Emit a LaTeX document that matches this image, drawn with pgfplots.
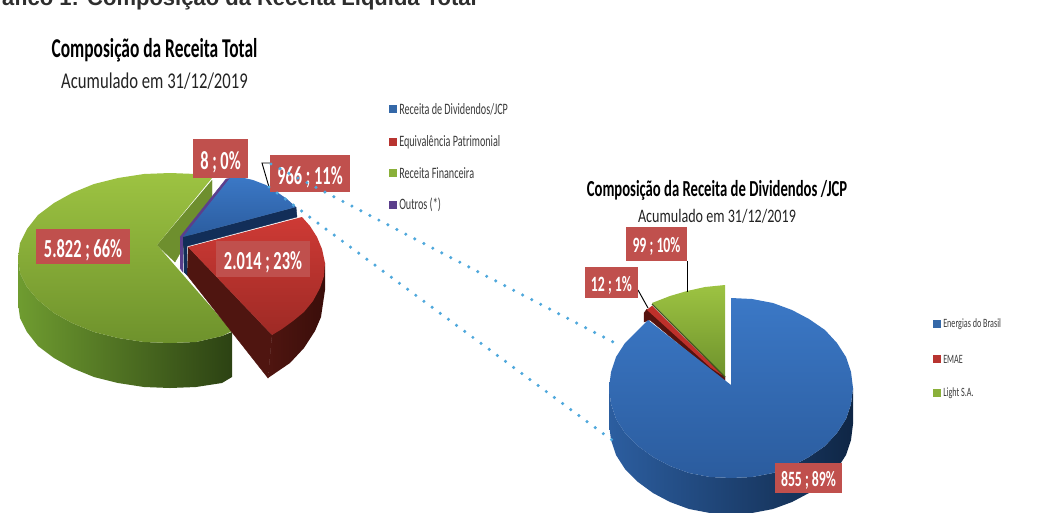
\documentclass[border=0pt]{standalone}
\usepackage{fontspec}
\setmainfont{Carlito}
\newfontfamily\arialb{Liberation Sans}[BoldFont={Liberation Sans Bold}]
\newfontfamily\nar[FakeStretch=0.64]{Carlito}
\newfontfamily\narb[FakeStretch=0.74]{Carlito}
\newfontfamily\narl[FakeStretch=0.63]{Carlito}
\usepackage{pgfplots}
\pgfplotsset{compat=1.18}

\definecolor{lbl}{HTML}{C0504D}
\definecolor{dots}{HTML}{4FA8DC}
\definecolor{leg}{HTML}{3A3A3A}
\definecolor{bluemk}{HTML}{3468A8}
\definecolor{redmk}{HTML}{B83430}
\definecolor{greenmk}{HTML}{8AB03A}
\definecolor{purplemk}{HTML}{5B3F8C}
\definecolor{gside1}{HTML}{6F9C30}
\definecolor{gside2}{HTML}{2C4213}
\definecolor{gwall}{HTML}{6E8F2E}
\definecolor{gtop1}{HTML}{9DC342}
\definecolor{gtop2}{HTML}{6E922C}
\definecolor{rside1}{HTML}{4F1510}
\definecolor{rside2}{HTML}{3A0E0A}
\definecolor{rwall}{HTML}{4F1510}
\definecolor{rtop1}{HTML}{CE3A35}
\definecolor{rtop2}{HTML}{9E2A25}
\definecolor{bwall}{HTML}{122E58}
\definecolor{btop1}{HTML}{3B78C6}
\definecolor{btop2}{HTML}{2B5C9E}
\definecolor{bside1}{HTML}{2C5EA0}
\definecolor{bside2}{HTML}{0F2645}
\definecolor{rslice}{HTML}{BE302A}
\definecolor{rslwall}{HTML}{56120E}
\definecolor{gedge}{HTML}{40541C}
\definecolor{ttl}{HTML}{2E2E2E}
\definecolor{sub}{HTML}{232323}

\tikzset{
  flat/.style={draw=#1, line width=0.3pt, fill=#1},
  vgrad/.style 2 args={draw=none, top color=#1, bottom color=#2},
  hgrad/.style 2 args={draw=none, left color=#1, right color=#2},
}
% label box: x, y centre, w, h (px), text size, text
\newcommand{\databox}[6]{\node[fill=lbl, inner sep=0pt, minimum width=#3*0.75pt, minimum height=#4*0.75pt, text=white, font=\fontsize{#5}{#5}\narl\bfseries] at (axis cs:#1,#2) {\raisebox{\dimexpr -#5pt*41/100\relax}[0pt][0pt]{#6}};}
\newcommand{\legtext}[4]{\node[anchor=west, inner sep=0pt, text=leg, font=\fontsize{#4}{#4}\nar] at (axis cs:#1,#2) {#3};}

\begin{document}
\begin{tikzpicture}
\path[use as bounding box, clip] (0,0) rectangle (787.5pt,384pt);
\begin{axis}[
  at={(0,0)}, anchor=south west,
  width=787.5pt, height=384pt, scale only axis,
  xmin=0, xmax=1050, ymin=0, ymax=512, y dir=reverse,
  hide axis, clip=true,
]
% --- left pie ---
% green side and notch wall
\addplot[hgrad={gside1}{gside2}] coordinates {(18,258)(20,273)(27,287)(38,300)(54,313)(72,323)(94,332)(118,338)(144,342)(170,343)(196,342)(222,336)(232,332)(232,377)(222,383)(196,387)(170,388)(144,387)(118,383)(94,377)(72,368)(54,358)(38,346)(27,332)(20,318)(18,303)};
\addplot[flat=gwall] coordinates {(212,180)(212,198)(175,262)(157,245)};
% green top
\addplot[vgrad={gtop1}{gtop2}] coordinates {(212,178)(196,174)(170,173)(144,174)(118,178)(94,184)(72,193)(54,203)(38,215)(27,229)(20,243)(18,258)(20,273)(27,287)(38,300)(54,313)(72,323)(94,332)(118,338)(144,342)(170,343)(196,342)(222,336)(232,331)(157,245)};
% red side, wall, top
\addplot[hgrad={rside1}{rside2}] coordinates {(325,263)(325,290)(321,317)(315,331)(304,348)(290,363)(268,378)(272,335)};
\addplot[flat=rwall] coordinates {(188,247)(272,335)(268,378)(187,275)};
\addplot[vgrad={rtop1}{rtop2}] coordinates {(188,247)(302,217)(310,226)(317,237)(322,249)(325,263)(324,276)(320,288)(313,301)(304,312)(293,321)(282,329)(272,335)};
% outros sliver
\addplot[flat=purplemk] coordinates {(180,237)(226,179)(231,178)(183,237)(183,272)(180,268)};
% blue walls and top
\addplot[flat=bwall] coordinates {(183,237)(187,237)(187,275)(184,272)};
\addplot[flat=bwall] coordinates {(183,237)(296,207)(297,217)(184,247)};
\addplot[vgrad={btop1}{btop2}] coordinates {(183,237)(230,178)(240,177)(253,180)(266,185)(277,192)(287,199)(296,207)};
% --- right pie ---
\addplot[hgrad={bside1}{bside2}] coordinates {(853,388)(851,404)(846,419)(837,433)(825,446)(809,457)(792,466)(773,473)(752,477)(731,478)(710,477)(689,473)(670,466)(653,457)(638,446)(625,433)(616,419)(611,404)(609,388)(609,424)(611,440)(616,455)(625,469)(638,482)(653,493)(670,502)(689,509)(710,513)(731,514)(752,513)(773,509)(792,502)(809,493)(825,482)(837,469)(846,455)(851,440)(853,424)};
\addplot[flat=rslwall] coordinates {(647,309)(644,313)(644,322)(650,320)(725,382)(725,376)};
\addplot[flat=rslice] coordinates {(647,310)(652,306)(722,375)(710,367)};
\addplot[vgrad={gtop1}{gtop2}] coordinates {(652,303)(670,296)(687,291)(705,287)(725,285)(725,377)};
\addplot[draw=gedge, line width=0.9pt] coordinates {(652,304)(725,377)};
\addplot[vgrad={btop1}{btop2}] coordinates {(731,298)(752,299)(773,303)(792,310)(809,319)(825,330)(837,343)(846,357)(851,372)(853,388)(851,404)(846,419)(837,433)(825,446)(809,457)(792,466)(773,473)(752,477)(731,478)(710,477)(689,473)(670,466)(653,457)(638,446)(625,433)(616,419)(611,404)(609,388)(611,372)(616,357)(625,343)(638,330)(648,320)(731,385)};
% leader lines
\addplot[black, line width=0.7pt] coordinates {(270,163)(262,163)(269,187)};
\addplot[black, line width=0.7pt] coordinates {(687,261)(687,292)};
\addplot[black, line width=0.7pt] coordinates {(638,290)(648,308)};
% legends
\addplot[only marks, mark=square*, mark size=2.6pt, color=bluemk] coordinates {(392.5,109)};
\addplot[only marks, mark=square*, mark size=2.6pt, color=redmk] coordinates {(392.5,142)};
\addplot[only marks, mark=square*, mark size=2.6pt, color=greenmk] coordinates {(392.5,173)};
\addplot[only marks, mark=square*, mark size=2.6pt, color=purplemk] coordinates {(392.5,205)};
\addplot[only marks, mark=square*, mark size=2.5pt, color=bluemk] coordinates {(936.5,324)};
\addplot[only marks, mark=square*, mark size=2.5pt, color=redmk] coordinates {(936.5,359)};
\addplot[only marks, mark=square*, mark size=2.5pt, color=greenmk] coordinates {(936.5,393)};
\legtext{399}{109}{Receita de Dividendos/JCP}{11.9}
\legtext{399}{142}{Equivalência Patrimonial}{11.9}
\legtext{399}{173}{Receita Financeira}{11.9}
\legtext{399}{205}{Outros (*)}{11.9}
\legtext{943}{324}{Energias do Brasil}{9.5}
\legtext{943}{359}{EMAE}{9.5}
\legtext{943}{393}{Light S.A.}{9.5}
% data labels
\databox{220.5}{158.5}{55}{39}{19.5}{8 ; 0\%}
\databox{310}{173.5}{80}{37}{19.5}{966 ; 11\%}
\databox{83}{246.5}{94}{35}{19.5}{5.822 ; 66\%}
\databox{263}{259}{94}{36}{19.5}{2.014 ; 23\%}
\databox{656.5}{244}{61}{34}{16.4}{99 ; 10\%}
\databox{611.5}{282.5}{53}{31}{16.4}{12 ; 1\%}
\databox{808.5}{478}{67}{30}{16.4}{855 ; 89\%}
% dotted connectors
\addplot[dots, line width=2.6pt, line cap=round, dash pattern=on 0pt off 7.6pt] coordinates {(271,164)(615,343)};
\addplot[dots, line width=2.6pt, line cap=round, dash pattern=on 0pt off 7.6pt] coordinates {(269,187)(612,440)};
% titles
\node[anchor=base east, inner sep=0pt, text=ttl, font=\fontsize{16.5}{17}\arialb\bfseries] at (axis cs:477,5) {Gráfico 1: Composição da Receita Líquida Total};
\node[inner sep=0pt, font=\fontsize{20.4}{22}\nar\bfseries] at (axis cs:154.5,50) {Composição da Receita Total};
\node[inner sep=0pt, text=sub, font=\fontsize{16.9}{18}\narb] at (axis cs:154.5,81) {Acumulado em 31/12/2019};
\node[inner sep=0pt, font=\fontsize{17.2}{18}\nar\bfseries] at (axis cs:717,190) {Composição da Receita de Dividendos /JCP};
\node[inner sep=0pt, text=sub, font=\fontsize{14.3}{15}\narb] at (axis cs:717,216) {Acumulado em 31/12/2019};
\end{axis}
\end{tikzpicture}
\end{document}
